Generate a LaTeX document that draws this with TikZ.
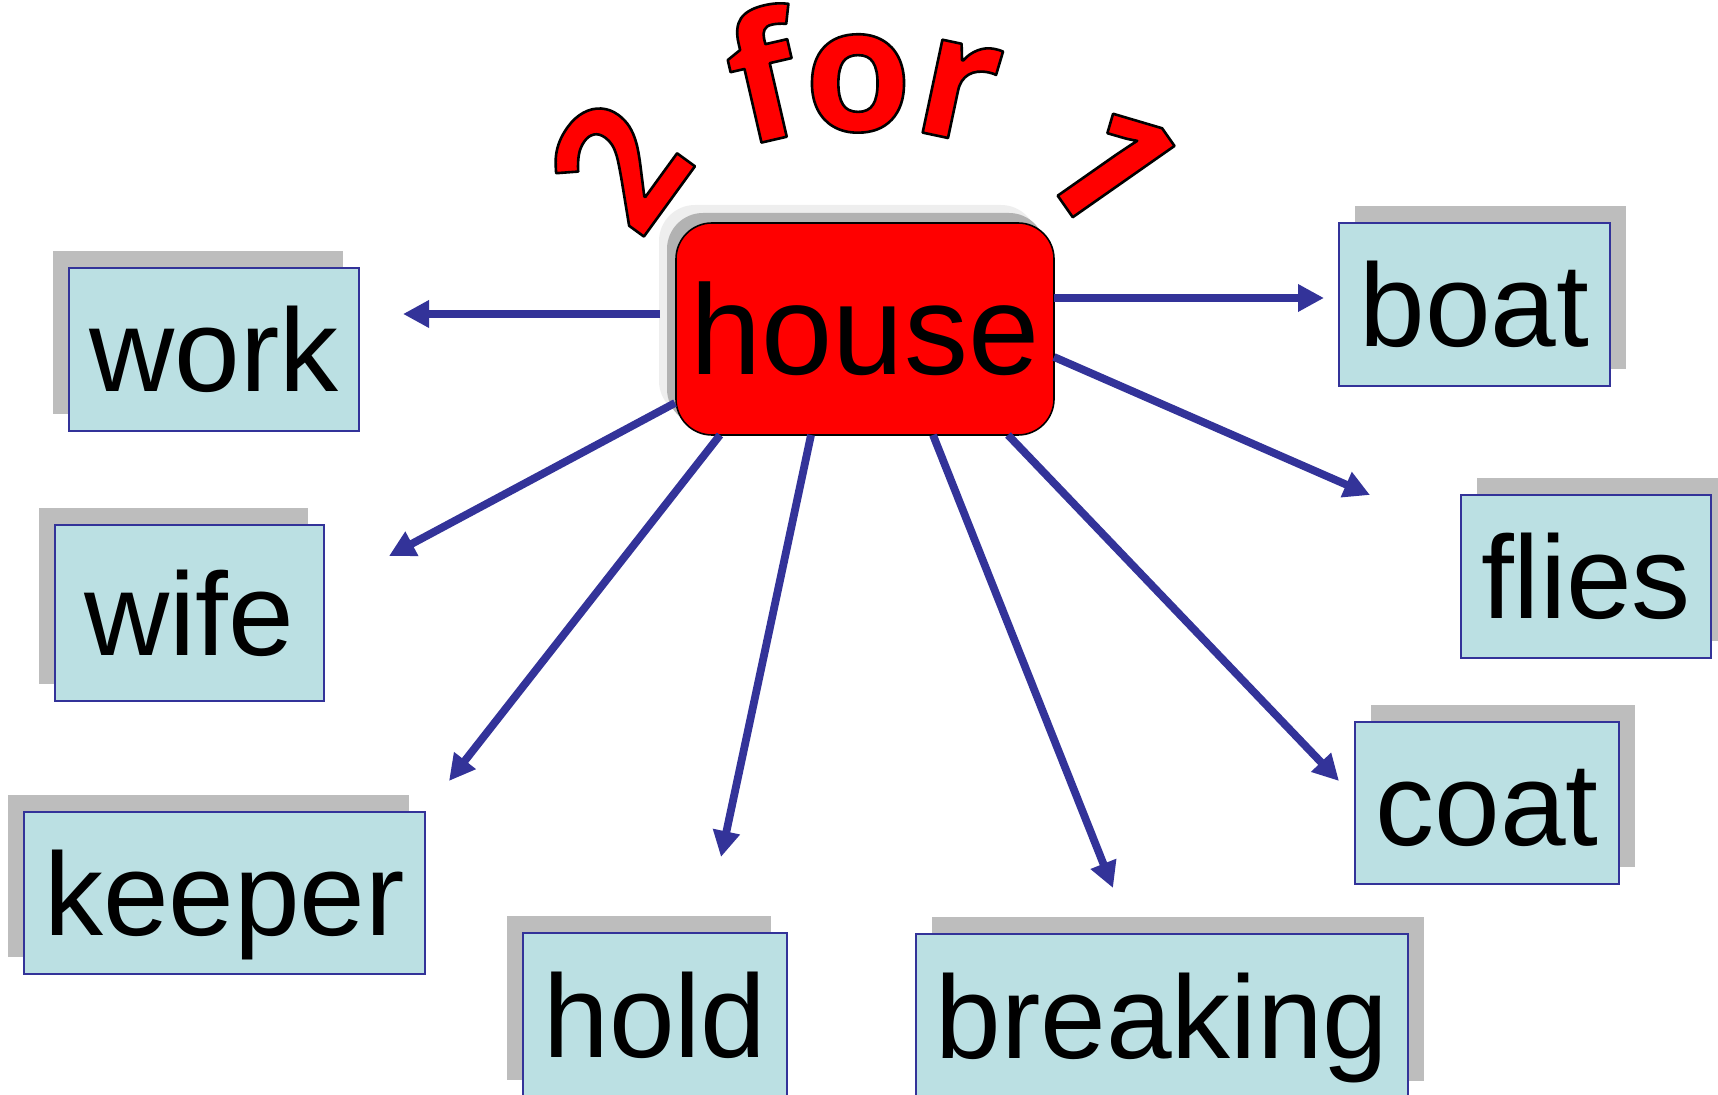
\documentclass[tikz,border=0pt]{standalone}
\usepackage{fontspec}
\setmainfont{Liberation Sans}
\newfontfamily\titlefont{Open Sans}
\usetikzlibrary{arrows.meta,calc,shadows}
\definecolor{arrowblue}{RGB}{51,51,153}
\definecolor{boxfill}{RGB}{187,224,227}
\definecolor{shadowgray}{RGB}{189,189,189}
\definecolor{halogray}{RGB}{238,238,238}
\definecolor{housegray}{RGB}{178,178,178}
\newcommand{\outlined}[1]{\special{pdf:literal direct 2 Tr 1.3 w 1 j 0 0 0 RG}#1\special{pdf:literal direct 0 Tr}}
\begin{document}
\begin{tikzpicture}[x=0.5pt,y=-0.5pt,
  word/.style={draw=arrowblue, line width=1pt, fill=boxfill, rectangle, inner sep=0pt, outer sep=0pt,
    text height=42.5pt, text depth=0pt, font=\fontsize{59}{60}\selectfont},
  lshadow/.style={general shadow={shadow xshift=-8pt, shadow yshift=8.5pt, fill=shadowgray}},
  rshadow/.style={general shadow={shadow xshift=8pt, shadow yshift=8.5pt, fill=shadowgray}},
  housebox/.style={draw=black, line width=0.8pt, fill=red, rectangle, rounded corners=18pt,
    inner sep=0pt, outer sep=0pt, text height=46pt, text depth=0pt, font=\fontsize{64}{64}\selectfont,
    general shadow={shadow xshift=-8.5pt, shadow yshift=9pt, fill=halogray},
    general shadow={shadow xshift=-4.5pt, shadow yshift=5pt, fill=housegray}},
  arr/.style={draw=arrowblue, line width=3.9pt, -{Triangle[length=13pt,width=13pt]}},
  ttl/.style={anchor=base, inner sep=0pt, text=red, font=\titlefont\bfseries\fontsize{87}{87}\selectfont},
]
\useasboundingbox (0,0) rectangle (1718,1095);
\clip (0,0) rectangle (1718,1095);

% title letters on an arch
\node[ttl, rotate=54] (t2) at (669,202) {\outlined{2}};
\node[ttl, rotate=13] (tf) at (777,139) {\outlined{f}};
\node[ttl] (to) at (858,131) {\outlined{o}};
\node[ttl, rotate=-12] (tr) at (948,138) {\outlined{r}};
\node[ttl, rotate=-55] (t1) at (1060,199) {\outlined{1}};

% central node
\node[housebox, minimum width=189pt, minimum height=106pt] (house) at (865,329) {house};

% word boxes
\node[word, lshadow, minimum width=145pt, minimum height=81.5pt] (work) at (214,349.5) {work};
\node[word, lshadow, minimum width=134.5pt, minimum height=88pt] (wife) at (189.5,613) {wife};
\node[word, lshadow, minimum width=200.5pt, minimum height=81pt] (keeper) at (224.5,893) {keeper};
\node[word, lshadow, minimum width=132pt, minimum height=82pt] (hold) at (655,1015) {hold};
\node[word, rshadow, minimum width=246pt, minimum height=82pt] (breaking) at (1162,1016) {breaking};
\node[word, rshadow, minimum width=135.5pt, minimum height=81.5pt] (boat) at (1474.5,304.5) {boat};
\node[word, rshadow, minimum width=132pt, minimum height=81pt] (coat) at (1487,803) {coat};
\node[word, rshadow, minimum width=125pt, minimum height=81.5pt] (flies) at (1586,576.5) {flies};

% arrow tips (free ends)
\coordinate (tWork) at (403,314);
\coordinate (tBoat) at (1324,298);
\coordinate (tFlies) at (1370,495);
\coordinate (tWife) at (389,556);
\coordinate (tKeeper) at (449,781);
\coordinate (tHold) at (721,857);
\coordinate (tBreaking) at (1113,888);
\coordinate (tCoat) at (1339,781);

\draw[arr] ($(house.west)+(-16,-15)$) -- (tWork);
\draw[arr] ($(house.east)+(0,-31)$) -- (tBoat);
\draw[arr] ($(house.east)+(0,28)$) -- (tFlies);
\draw[arr] ($(house.west)+(-1,74)$) -- (tWife);
\draw[arr] ($(house.south west)+(44,0)$) -- (tKeeper);
\draw[arr] ($(house.south)+(-54,0)$) -- (tHold);
\draw[arr] ($(house.south)+(68,0)$) -- (tBreaking);
\draw[arr] ($(house.south)+(143,0)$) -- (tCoat);
\end{tikzpicture}
\end{document}
